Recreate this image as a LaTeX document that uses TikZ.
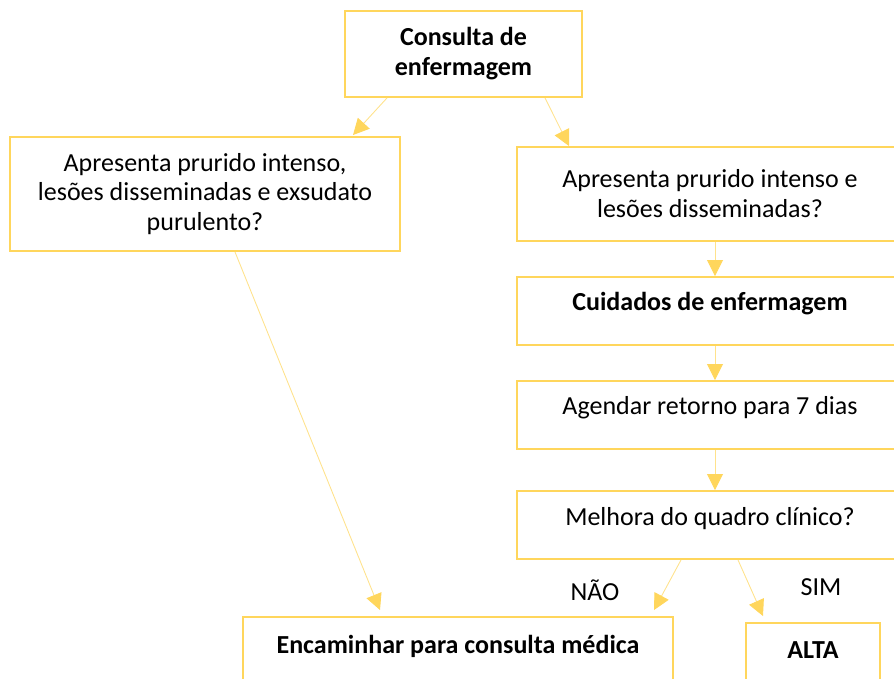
\documentclass[tikz,border=0pt]{standalone}
\usepackage{fontspec}
\setmainfont{Carlito}
\usetikzlibrary{calc}
\usetikzlibrary{arrows.meta}
\definecolor{gold}{RGB}{255,214,92}
\definecolor{goldlite}{RGB}{255,226,140}
\newcommand*{\px }{0.02cm}
\newcommand*{\rbw}{386*\px}
\newcommand*{\rbh}{68*\px}
\newcommand*{\fs }{\fontsize{14.8}{17}\selectfont}

\begin{document}
\begin{tikzpicture}[x=\px, y=-\px,
    box/.style     = {draw=gold, line width=1.1pt, align=center, inner sep=0pt, font=\fs},
    oneline/.style = {text height=17*\px, text depth=17*\px},
    flow/.style    = {draw=goldlite, line width=0.5pt, -{Triangle[length=0.32cm, width=0.32cm, color=gold]}}]
    \useasboundingbox (0,0) rectangle (894,679);
    \clip (0,0) rectangle (894,679);
        \node [box, minimum width=237*\px, minimum height=86*\px, font=\fs\bfseries] (cons) at (463.5, 54) {Consulta de\\enfermagem};
        \node [box, minimum width=390*\px, minimum height=114*\px] (prur) at (205, 194) {Apresenta prurido intenso,\\lesões disseminadas e exsudato\\purulento?};
        \node [box, minimum width=\rbw, minimum height=94*\px] (less) at (710, 194) {Apresenta prurido intenso e\\lesões disseminadas?};
        \node [box, oneline, minimum width=\rbw, minimum height=\rbh, font=\fs\bfseries] (cuid) at (710, 311) {Cuidados de enfermagem};
        \node [box, oneline, minimum width=\rbw, minimum height=\rbh] (agen) at (710, 415) {Agendar retorno para 7 dias};
        \node [box, oneline, minimum width=\rbw, minimum height=\rbh] (melh) at (710, 525) {Melhora do quadro clínico?};
        \node [box, oneline, minimum width=430*\px, minimum height=72*\px, font=\fs\bfseries] (encm) at (458, 653) {Encaminhar para consulta médica};
        \node [box, oneline, minimum width=134*\px, minimum height=70*\px, font=\fs\bfseries] (alta) at (813, 658) {ALTA};
        \node [font=\fs] (nao) at (595, 590) {NÃO};
        \node [font=\fs] (sim) at (821, 587) {SIM};
        % connectors
        \draw [flow] ($(cons.south)+(-76.5,0)$) -- ($(prur.north)+(148,-1)$);
        \draw [flow] ($(cons.south)+( 81.5,0)$) -- ($(less.north)+(-141,0)$);
        \draw [flow] ($(prur.south)+( 30,0)$)   -- ($(encm.north)+(-78,-6)$);
        \draw [flow] ($(less.south)+(5,0)$) -- ($(cuid.north)+(5,0)$);
        \draw [flow] ($(cuid.south)+(5,0)$) -- ($(agen.north)+(5,0)$);
        \draw [flow] ($(agen.south)+(5,0)$) -- ($(melh.north)+(5,0)$);
        \draw [flow] ($(melh.south)+(-29,0)$) -- ($(encm.north)+(196,-6)$);
        \draw [flow] ($(melh.south)+( 28,0)$) -- ($(alta.north)+(-50,-6)$);
    \end{tikzpicture}
\end{document}
